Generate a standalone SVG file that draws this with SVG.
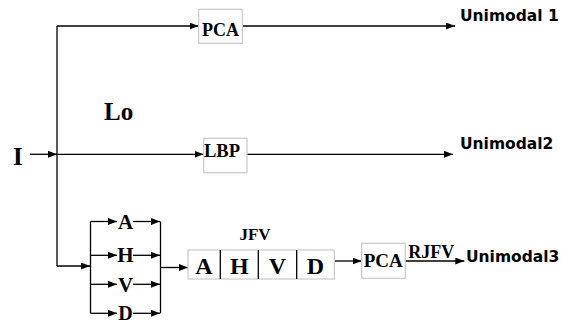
<svg xmlns="http://www.w3.org/2000/svg" width="561" height="324" viewBox="0 0 561 324">
<style>
.ln{stroke:#000;stroke-width:1.3;fill:none}
.bx{fill:#fff;stroke:#c8c8c8;stroke-width:1.2}
.tm{font-family:"Liberation Serif","Times New Roman",serif;font-weight:bold;fill:#000}
.vd{font-family:"DejaVu Sans",Verdana,sans-serif;font-weight:bold;fill:#000;font-size:15.5px}
</style>
<defs>
<marker id="ah" markerUnits="userSpaceOnUse" markerWidth="10" markerHeight="8" refX="9" refY="3.5" orient="auto">
<path d="M0,0 L9,3.5 L0,7 z" fill="#000"/>
</marker>
</defs>
<rect width="561" height="324" fill="#fff"/>
<g id="connectors">
<line class="ln" x1="30" y1="154.3" x2="57" y2="154.3" marker-end="url(#ah)"/>
<line class="ln" x1="57" y1="26" x2="57" y2="266"/>
<line class="ln" x1="57" y1="26" x2="198.5" y2="26" marker-end="url(#ah)"/>
<line class="ln" x1="57" y1="154.3" x2="203.5" y2="154.3" marker-end="url(#ah)"/>
<line class="ln" x1="242.3" y1="26" x2="455" y2="26" marker-end="url(#ah)"/>
<line class="ln" x1="247" y1="154.3" x2="453" y2="154.3" marker-end="url(#ah)"/>
<line class="ln" x1="57" y1="266" x2="90" y2="266" marker-end="url(#ah)"/>
<line class="ln" x1="90.5" y1="221.5" x2="90.5" y2="313.3"/>
<line class="ln" x1="160.5" y1="221.5" x2="160.5" y2="313.3"/>
<line class="ln" x1="90.5" y1="221.5" x2="117" y2="221.5" marker-end="url(#ah)"/>
<line class="ln" x1="90.5" y1="255.3" x2="117" y2="255.3" marker-end="url(#ah)"/>
<line class="ln" x1="90.5" y1="284.3" x2="117" y2="284.3" marker-end="url(#ah)"/>
<line class="ln" x1="90.5" y1="313.3" x2="117" y2="313.3" marker-end="url(#ah)"/>
<line class="ln" x1="133" y1="221.5" x2="160" y2="221.5" marker-end="url(#ah)"/>
<line class="ln" x1="133" y1="255.3" x2="160" y2="255.3" marker-end="url(#ah)"/>
<line class="ln" x1="133" y1="284.3" x2="160" y2="284.3" marker-end="url(#ah)"/>
<line class="ln" x1="133" y1="313.3" x2="160" y2="313.3" marker-end="url(#ah)"/>
<line class="ln" x1="160.5" y1="267.5" x2="188" y2="267.5" marker-end="url(#ah)"/>
<line class="ln" x1="334.3" y1="261" x2="361.5" y2="261" marker-end="url(#ah)"/>
<line class="ln" x1="405.3" y1="261" x2="464.3" y2="261" marker-end="url(#ah)"/>
</g>
<g id="input"><text class="tm" x="13" y="165" font-size="25">I</text></g>
<g id="lo"><text class="tm" x="104" y="120" font-size="25">Lo</text></g>
<g id="pca1">
<rect class="bx" x="198.7" y="9.3" width="43.6" height="34"/>
<text class="tm" x="220.5" y="36" font-size="18" text-anchor="middle">PCA</text>
</g>
<g id="lbp">
<rect class="bx" x="203.7" y="138.3" width="43.3" height="34.4"/>
<text class="tm" x="222" y="157.3" font-size="18.5" text-anchor="middle">LBP</text>
</g>
<g id="uni1"><text class="vd" x="460" y="21">Unimodal 1</text></g>
<g id="uni2"><text class="vd" x="460" y="149">Unimodal2</text></g>
<g id="bands">
<text class="tm" x="125.5" y="228.5" font-size="21" text-anchor="middle">A</text>
<text class="tm" x="125.5" y="262" font-size="21" text-anchor="middle">H</text>
<text class="tm" x="125.5" y="291.5" font-size="21" text-anchor="middle">V</text>
<text class="tm" x="125.5" y="319.5" font-size="20" text-anchor="middle">D</text>
</g>
<g id="jfv">
<text class="tm" x="255" y="240" font-size="17" text-anchor="middle">JFV</text>
<rect class="bx" x="188" y="250" width="146.3" height="29"/>
<line x1="220.3" y1="250" x2="220.3" y2="279" stroke="#000" stroke-width="1.3"/>
<line x1="258.3" y1="250" x2="258.3" y2="279" stroke="#000" stroke-width="1.3"/>
<line x1="296.7" y1="250" x2="296.7" y2="279" stroke="#000" stroke-width="1.3"/>
<text class="tm" x="204" y="274" font-size="24" text-anchor="middle">A</text>
<text class="tm" x="239.3" y="274" font-size="24" text-anchor="middle">H</text>
<text class="tm" x="277.5" y="274" font-size="24" text-anchor="middle">V</text>
<text class="tm" x="315.5" y="274" font-size="24" text-anchor="middle">D</text>
</g>
<g id="pca2">
<rect class="bx" x="361.7" y="243.3" width="43.6" height="35"/>
<text class="tm" x="383.3" y="267" font-size="19" text-anchor="middle">PCA</text>
</g>
<g id="rjfv"><text class="tm" x="408.3" y="258.3" font-size="18">RJFV</text></g>
<g id="uni3"><text class="vd" x="466" y="262.3">Unimodal3</text></g>
</svg>
